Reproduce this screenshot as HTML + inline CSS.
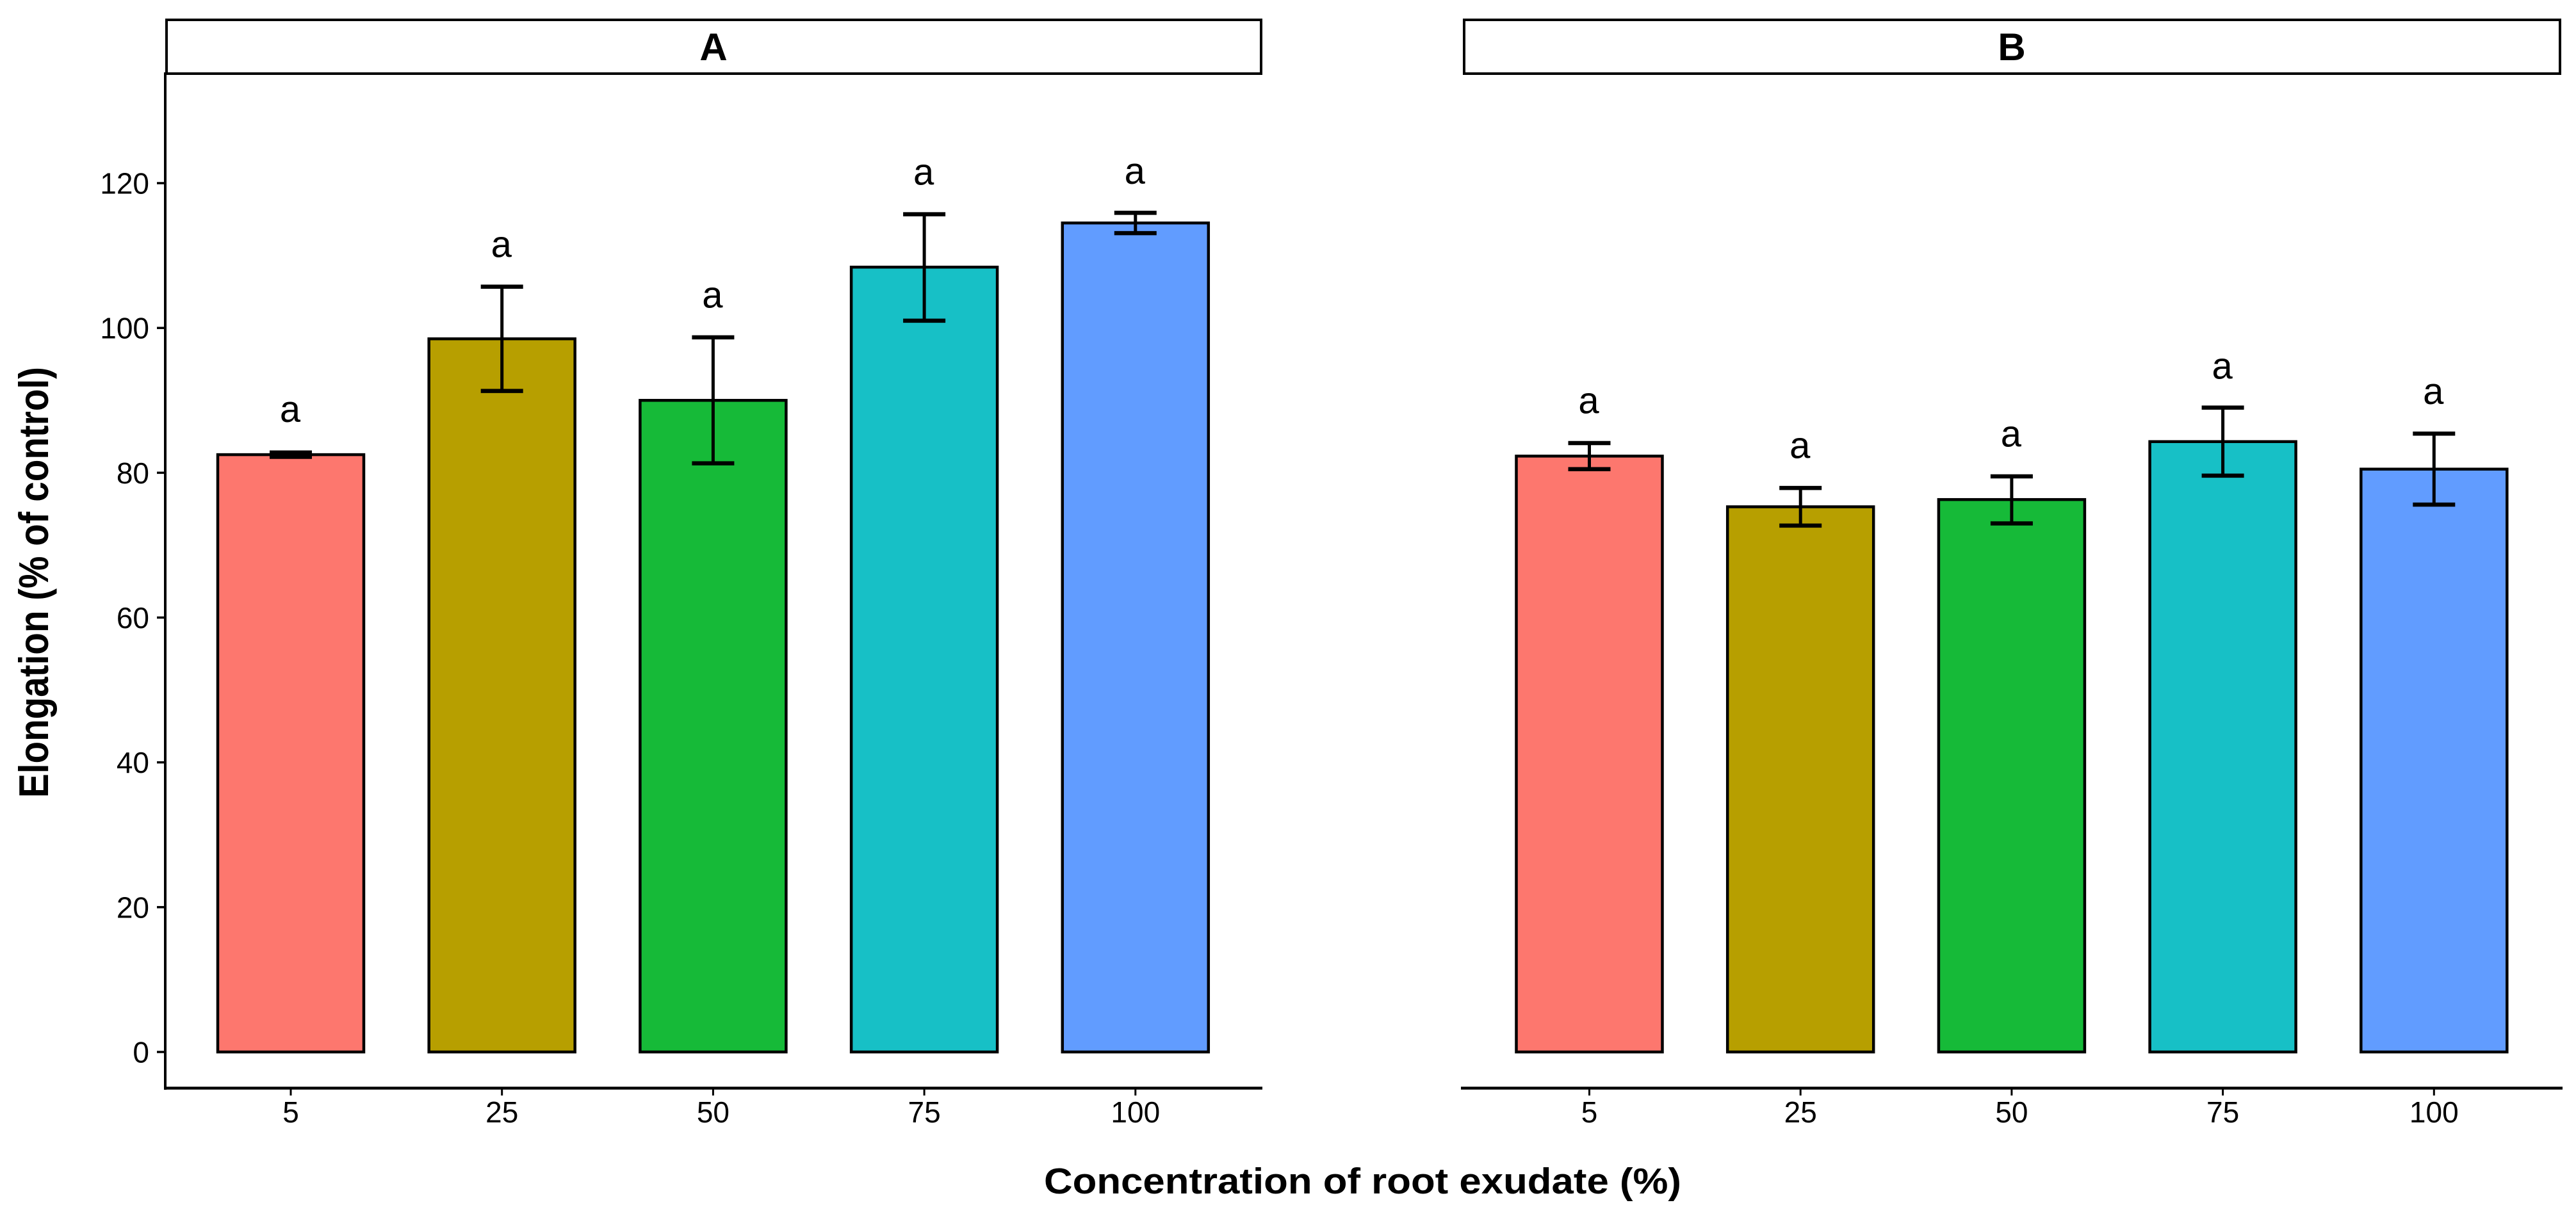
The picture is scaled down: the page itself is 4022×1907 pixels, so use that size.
<!DOCTYPE html>
<html>
<head>
<meta charset="utf-8">
<title>Elongation by concentration of root exudate</title>
<style>
html,body{margin:0;padding:0;background:#fff;}
svg{display:block;}
text{font-family:"Liberation Sans",Arial,sans-serif;fill:#000;}
</style>
</head>
<body>
<svg id="chart" width="4022" height="1907" viewBox="0 0 4022 1907" xmlns="http://www.w3.org/2000/svg">
  <rect x="0" y="0" width="4022" height="1907" fill="#fff"/>
  <g>
    <rect x="260" y="31" width="1709" height="84" fill="#fff" stroke="#000" stroke-width="4"/>
    <text x="1114" y="94" font-size="60" font-weight="700" text-anchor="middle">A</text>
  </g>
  <g>
    <rect x="2286" y="31" width="1711" height="84" fill="#fff" stroke="#000" stroke-width="4"/>
    <text x="3141" y="94" font-size="60" font-weight="700" text-anchor="middle">B</text>
  </g>
  <line x1="258" y1="113" x2="258" y2="1702" stroke="#000" stroke-width="4"/>
  <line x1="256" y1="1699.5" x2="1971" y2="1699.5" stroke="#000" stroke-width="4.5"/>
  <line x1="2281" y1="1699.5" x2="4001" y2="1699.5" stroke="#000" stroke-width="4.5"/>
  <g id="marks"></g>
  <text transform="translate(75,1246) rotate(-90) scale(1,1.14)" font-size="57" font-weight="700" textLength="673" lengthAdjust="spacingAndGlyphs">Elongation (% of control)</text>
  <text x="1630" y="1864" font-size="57" font-weight="700" textLength="995" lengthAdjust="spacingAndGlyphs">Concentration of root exudate (%)</text>
</svg>
<script>
const categories = ['5', '25', '50', '75', '100'];
const yTickValues = [0, 20, 40, 60, 80, 100, 120];
const barColors = ['#FD776E', '#B79F00', '#16BA38', '#17C0C6', '#619CFF'];

const meansA = [82.5, 98.5, 90.0, 108.4, 114.5];
const upperA = [82.8, 105.7, 98.7, 115.7, 115.9];
const lowerA = [82.2, 91.3, 81.3, 101.0, 113.1];
const lettersA = ['a', 'a', 'a', 'a', 'a'];
const letterValuesA = [87.0, 109.8, 102.8, 119.8, 119.9];

const meansB = [82.3, 75.3, 76.3, 84.3, 80.5];
const upperB = [84.1, 77.9, 79.5, 89.0, 85.4];
const lowerB = [80.5, 72.7, 73.0, 79.6, 75.6];
const lettersB = ['a', 'a', 'a', 'a', 'a'];
const letterValuesB = [88.2, 82.0, 83.6, 93.0, 89.5];

const NS = 'http://www.w3.org/2000/svg';
const marks = document.getElementById('marks');

function yScale(v) { return 1643 - v * 11.308; }
function xScaleA(i) { return 454 + i * 329.7; }
function xScaleB(i) { return 2481.5 + i * 329.7; }

function make(tag, props) {
  const el = document.createElementNS(NS, tag);
  for (const k in props) el.setAttribute(k, props[k]);
  marks.appendChild(el);
  return el;
}

// Y axis ticks and labels
yTickValues.forEach(function (v) {
  const tick = make('line', { x1: 245, x2: 257, y1: yScale(v), y2: yScale(v), stroke: '#000', 'stroke-width': 3.5 });
  
  
  const label = make('text', { x: 233, y: yScale(v) + 16.5, 'font-size': 46, 'text-anchor': 'end' });
  label.textContent = String(v);
  
  
});

function drawPanel(panel, xScale, means, upper, lower, letters, letterValues) {
  categories.forEach(function (cat, i) {
    const cx = xScale(i);
    const bar = make('rect', {
      x: cx - 114, y: yScale(means[i]), width: 228,
      height: yScale(0) - yScale(means[i]),
      fill: barColors[i], stroke: '#000', 'stroke-width': 4.5
    });
    
    

    const stem = make('line', { x1: cx, x2: cx, y1: yScale(upper[i]), y2: yScale(lower[i]), stroke: '#000', 'stroke-width': 5 });
    
    

    const capTop = make('line', { x1: cx - 33, x2: cx + 33, y1: yScale(upper[i]), y2: yScale(upper[i]), stroke: '#000', 'stroke-width': 6.5 });
    
    

    const capBottom = make('line', { x1: cx - 33, x2: cx + 33, y1: yScale(lower[i]), y2: yScale(lower[i]), stroke: '#000', 'stroke-width': 6.5 });
    
    

    const letter = make('text', { x: cx - 1, y: yScale(letterValues[i]), 'font-size': 58, 'text-anchor': 'middle' });
    letter.textContent = letters[i];
    
    

    const tick = make('line', { x1: cx, x2: cx, y1: 1701, y2: 1711, stroke: '#000', 'stroke-width': 3 });
    
    

    const tickLabel = make('text', { x: cx, y: 1753, 'font-size': 46, 'text-anchor': 'middle' });
    tickLabel.textContent = cat;
    
    
  });
}

drawPanel('a', xScaleA, meansA, upperA, lowerA, lettersA, letterValuesA);
drawPanel('b', xScaleB, meansB, upperB, lowerB, lettersB, letterValuesB);
</script>
</body>
</html>
